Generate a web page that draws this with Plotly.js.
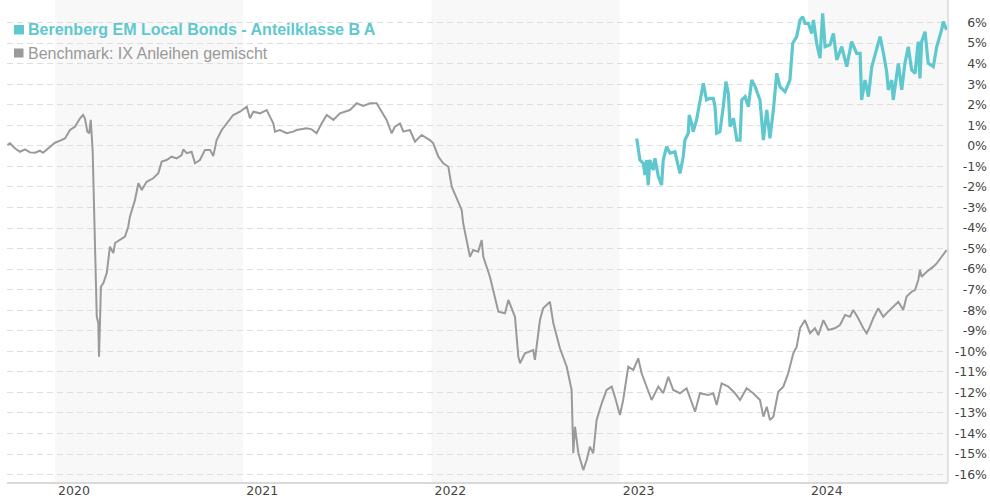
<!DOCTYPE html>
<html>
<head>
<meta charset="utf-8">
<script src="https://cdn.plot.ly/plotly-3.0.1.min.js"></script>
<style>html,body{margin:0;padding:0;background:#fff;}#chart{width:990px;height:500px;}</style>
</head>
<body>
<div id="chart"></div>
<script>
// Time in decimal years
var benchT = [2019.747,2019.761,2019.787,2019.814,2019.841,2019.867,2019.894,2019.920,2019.936,2019.973,
2020.000,2020.027,2020.053,2020.080,2020.106,2020.133,2020.149,2020.159,2020.172,2020.182,
2020.190,2020.200,2020.213,2020.222,2020.230,2020.234,2020.239,2020.244,2020.257,2020.275,
2020.292,2020.310,2020.319,2020.345,2020.372,2020.389,2020.398,2020.425,2020.443,2020.461,
2020.487,2020.522,2020.549,2020.567,2020.593,2020.620,2020.647,2020.673,2020.682,2020.700,
2020.726,2020.744,2020.770,2020.797,2020.824,2020.841,2020.859,2020.886,2020.912,2020.947,
2020.983,2021.019,2021.036,2021.054,2021.089,2021.125,2021.142,2021.160,2021.169,2021.195,
2021.231,2021.266,2021.284,2021.337,2021.364,2021.390,2021.417,2021.444,2021.479,2021.514,
2021.567,2021.603,2021.638,2021.674,2021.709,2021.736,2021.762,2021.789,2021.806,2021.833,
2021.851,2021.886,2021.913,2021.948,2021.992,2022.010,2022.037,2022.063,2022.090,2022.108,
2022.134,2022.161,2022.169,2022.205,2022.222,2022.249,2022.267,2022.276,2022.311,2022.329,
2022.356,2022.391,2022.409,2022.444,2022.462,2022.471,2022.497,2022.541,2022.550,2022.577,
2022.594,2022.630,2022.648,2022.683,2022.719,2022.745,2022.754,2022.763,2022.781,2022.807,
2022.825,2022.842,2022.860,2022.878,2022.905,2022.931,2022.958,2022.975,2023.002,2023.019,
2023.046,2023.073,2023.099,2023.117,2023.144,2023.170,2023.206,2023.232,2023.259,2023.285,
2023.321,2023.356,2023.401,2023.427,2023.471,2023.498,2023.516,2023.542,2023.578,2023.613,
2023.640,2023.675,2023.710,2023.746,2023.764,2023.782,2023.799,2023.817,2023.843,2023.870,
2023.896,2023.923,2023.941,2023.959,2023.985,2024.012,2024.038,2024.056,2024.083,2024.109,
2024.144,2024.171,2024.198,2024.224,2024.242,2024.268,2024.295,2024.313,2024.330,2024.348,
2024.374,2024.401,2024.427,2024.454,2024.481,2024.507,2024.525,2024.552,2024.570,2024.587,
2024.596,2024.605,2024.632,2024.667,2024.685,2024.711,2024.738];
var benchV = [0.04,0.12,-0.12,-0.29,-0.17,-0.32,-0.34,-0.24,-0.34,-0.04,
0.15,0.25,0.36,0.77,0.93,1.34,1.50,1.34,0.69,0.61,
1.26,-0.20,-4.42,-8.32,-8.62,-10.26,-8.62,-6.86,-6.68,-6.19,
-4.91,-5.22,-4.73,-4.58,-4.42,-3.94,-3.45,-2.64,-1.82,-2.15,
-1.75,-1.58,-1.34,-0.77,-0.69,-0.53,-0.61,-0.45,-0.17,-0.36,
-0.29,-0.85,-0.69,-0.20,-0.20,-0.50,0.28,0.77,1.09,1.50,
1.66,1.90,1.34,1.66,1.58,1.74,1.42,1.09,0.69,0.77,
0.61,0.69,0.77,0.85,0.80,0.61,1.09,1.50,1.26,1.58,
1.74,2.07,1.94,2.07,2.07,1.66,1.26,0.61,0.93,1.09,
0.69,0.77,0.20,0.53,0.28,0.12,-0.53,-0.85,-1.02,-1.99,
-2.55,-3.12,-3.77,-5.40,-5.07,-5.15,-4.58,-5.40,-6.37,-7.02,
-8.07,-8.15,-7.50,-8.32,-10.26,-10.58,-10.10,-9.94,-10.42,-8.48,
-7.91,-7.59,-8.64,-9.85,-10.75,-11.88,-14.96,-13.67,-14.96,-15.78,
-15.29,-14.64,-14.96,-13.34,-12.53,-11.88,-11.72,-12.21,-13.10,-12.37,
-10.75,-10.91,-10.34,-11.07,-11.72,-12.37,-11.72,-12.04,-11.24,-11.88,
-12.04,-11.80,-12.94,-12.04,-12.13,-12.04,-12.61,-11.56,-11.72,-12.04,
-12.37,-11.80,-12.04,-12.37,-13.18,-12.70,-13.34,-13.18,-11.97,-11.72,
-11.07,-10.10,-9.78,-8.87,-8.48,-9.12,-8.88,-9.21,-8.48,-8.96,
-8.88,-8.72,-8.23,-8.32,-7.99,-8.39,-8.88,-9.12,-8.80,-8.39,
-7.91,-8.32,-8.07,-7.83,-7.59,-7.99,-7.34,-7.10,-7.02,-6.53,
-6.04,-6.37,-6.13,-5.88,-5.72,-5.40,-5.07];

var fundT = [2023.091,2023.108,2023.126,2023.135,2023.144,2023.152,2023.161,2023.179,2023.188,2023.206,
2023.223,2023.232,2023.250,2023.268,2023.294,2023.312,2023.321,2023.338,2023.347,2023.365,
2023.370,2023.383,2023.391,2023.409,2023.436,2023.445,2023.462,2023.480,2023.498,2023.507,
2023.516,2023.533,2023.551,2023.565,2023.578,2023.587,2023.605,2023.623,2023.640,2023.649,
2023.667,2023.684,2023.702,2023.720,2023.746,2023.764,2023.782,2023.799,2023.817,2023.835,
2023.852,2023.879,2023.905,2023.920,2023.941,2023.959,2023.973,2023.985,2024.003,2024.021,
2024.030,2024.047,2024.065,2024.079,2024.092,2024.118,2024.136,2024.154,2024.180,2024.207,
2024.233,2024.260,2024.278,2024.286,2024.304,2024.322,2024.340,2024.366,2024.384,2024.402,
2024.419,2024.428,2024.446,2024.454,2024.481,2024.499,2024.516,2024.534,2024.552,2024.570,
2024.587,2024.596,2024.605,2024.623,2024.640,2024.667,2024.685,2024.711,2024.720,2024.738];
var fundV = [0.36,-0.69,-0.85,-1.42,-0.69,-1.91,-0.69,-1.18,-0.61,-1.50,
-1.91,-0.69,-0.04,-0.36,-0.29,-1.02,-1.34,-0.53,0.28,0.61,
1.50,1.09,0.69,1.26,2.72,3.04,2.23,2.31,2.31,1.90,
0.61,0.69,1.90,3.12,2.55,0.93,1.34,0.28,0.28,2.23,
2.39,1.90,3.20,2.88,2.23,0.28,1.74,0.36,1.74,3.53,
2.88,2.63,3.20,4.99,5.31,6.12,6.28,5.96,5.96,5.47,
6.12,4.99,4.26,6.45,4.82,4.91,5.47,4.18,4.82,3.85,
5.07,4.50,4.50,2.23,3.20,2.39,3.85,4.66,5.31,4.50,
3.61,2.72,3.20,2.23,4.01,2.72,4.01,4.82,3.69,3.53,
5.07,3.28,5.07,5.55,4.01,3.85,4.82,5.64,6.04,5.64];

var fundName = 'Berenberg EM Local Bonds - Anteilklasse B A';
var benchName = 'Benchmark: IX Anleihen gemischt';
var yearTicks = [2020, 2021, 2022, 2023, 2024];
var yearLabels = ['2020', '2021', '2022', '2023', '2024'];
var shadedYears = [2020, 2022, 2024];
var pctTicks = [6,5,4,3,2,1,0,-1,-2,-3,-4,-5,-6,-7,-8,-9,-10,-11,-12,-13,-14,-15,-16];
var pctLabels = pctTicks.map(function (v) { return v + '%'; });

var TEAL = '#5ec8ce', GREY = '#9a9a9a';
var xRange = [2019.745, 2024.745];
var xDomEnd = 941/983;

var shapes = shadedYears.map(function (y) {
  return {type:'rect', xref:'x', yref:'paper', x0:y, x1:Math.min(y+1, xRange[1]), y0:0, y1:1,
          fillcolor:'#f8f8f8', line:{width:0}, layer:'below'};
});
shapes.push({type:'line', xref:'paper', yref:'paper', x0:xDomEnd, x1:xDomEnd, y0:0, y1:1,
             line:{color:'#d9d9d9', width:1.5}, layer:'above'});
// legend squares
shapes.push({type:'rect', xref:'paper', yref:'paper', x0:7/983, x1:17/983, y0:(482-34.5)/482, y1:(482-25)/482,
             fillcolor:TEAL, line:{width:0}});
shapes.push({type:'rect', xref:'paper', yref:'paper', x0:7/983, x1:16.5/983, y0:(482-57.5)/482, y1:(482-48.5)/482,
             fillcolor:GREY, line:{width:0}});

var data = [
  {type:'scatter', mode:'lines', name:benchName, x:benchT, y:benchV,
   line:{color:GREY, width:2}, hoverinfo:'skip'},
  {type:'scatter', mode:'lines', name:fundName, x:fundT, y:fundV,
   line:{color:TEAL, width:3.2}, hoverinfo:'skip'}
];

var layout = {
  width:990, height:500,
  margin:{l:7, r:0, t:0, b:18, pad:0},
  paper_bgcolor:'#fff', plot_bgcolor:'rgba(0,0,0,0)',
  showlegend:false,
  xaxis:{type:'linear', range:xRange, domain:[0, xDomEnd], anchor:'y',
         tickvals:yearTicks, ticktext:yearLabels, ticks:'', showgrid:false, zeroline:false,
         showline:true, linecolor:'#d9d9d9', linewidth:1.5, ticklabelshift:19, ticklabelstandoff:-4,
         tickfont:{family:'DejaVu Sans', size:12.5, color:'#444'}},
  yaxis:{range:[-16.36, 7.095], side:'right', anchor:'free', position:1,
         tickvals:pctTicks, ticktext:pctLabels, ticks:'', ticklabelposition:'inside',
         showgrid:true, gridcolor:'#dedede', gridwidth:1, griddash:'6px,4px',
         zeroline:false, showline:false,
         tickfont:{family:'DejaVu Sans', size:12.5, color:'#444'}},
  shapes:shapes,
  annotations:[
    {xref:'paper', yref:'paper', x:19/983, y:(482-29.5)/482, xanchor:'left', yanchor:'middle',
     showarrow:false, text:'<b>'+fundName+'</b>',
     font:{family:'Liberation Sans, Arial, sans-serif', size:16, color:TEAL}},
    {xref:'paper', yref:'paper', x:19/983, y:(482-53)/482, xanchor:'left', yanchor:'middle',
     showarrow:false, text:benchName,
     font:{family:'Liberation Sans, Arial, sans-serif', size:16, color:'#999'}}
  ]
};

Plotly.newPlot('chart', data, layout, {displayModeBar:false, staticPlot:true});
</script>
</body>
</html>
